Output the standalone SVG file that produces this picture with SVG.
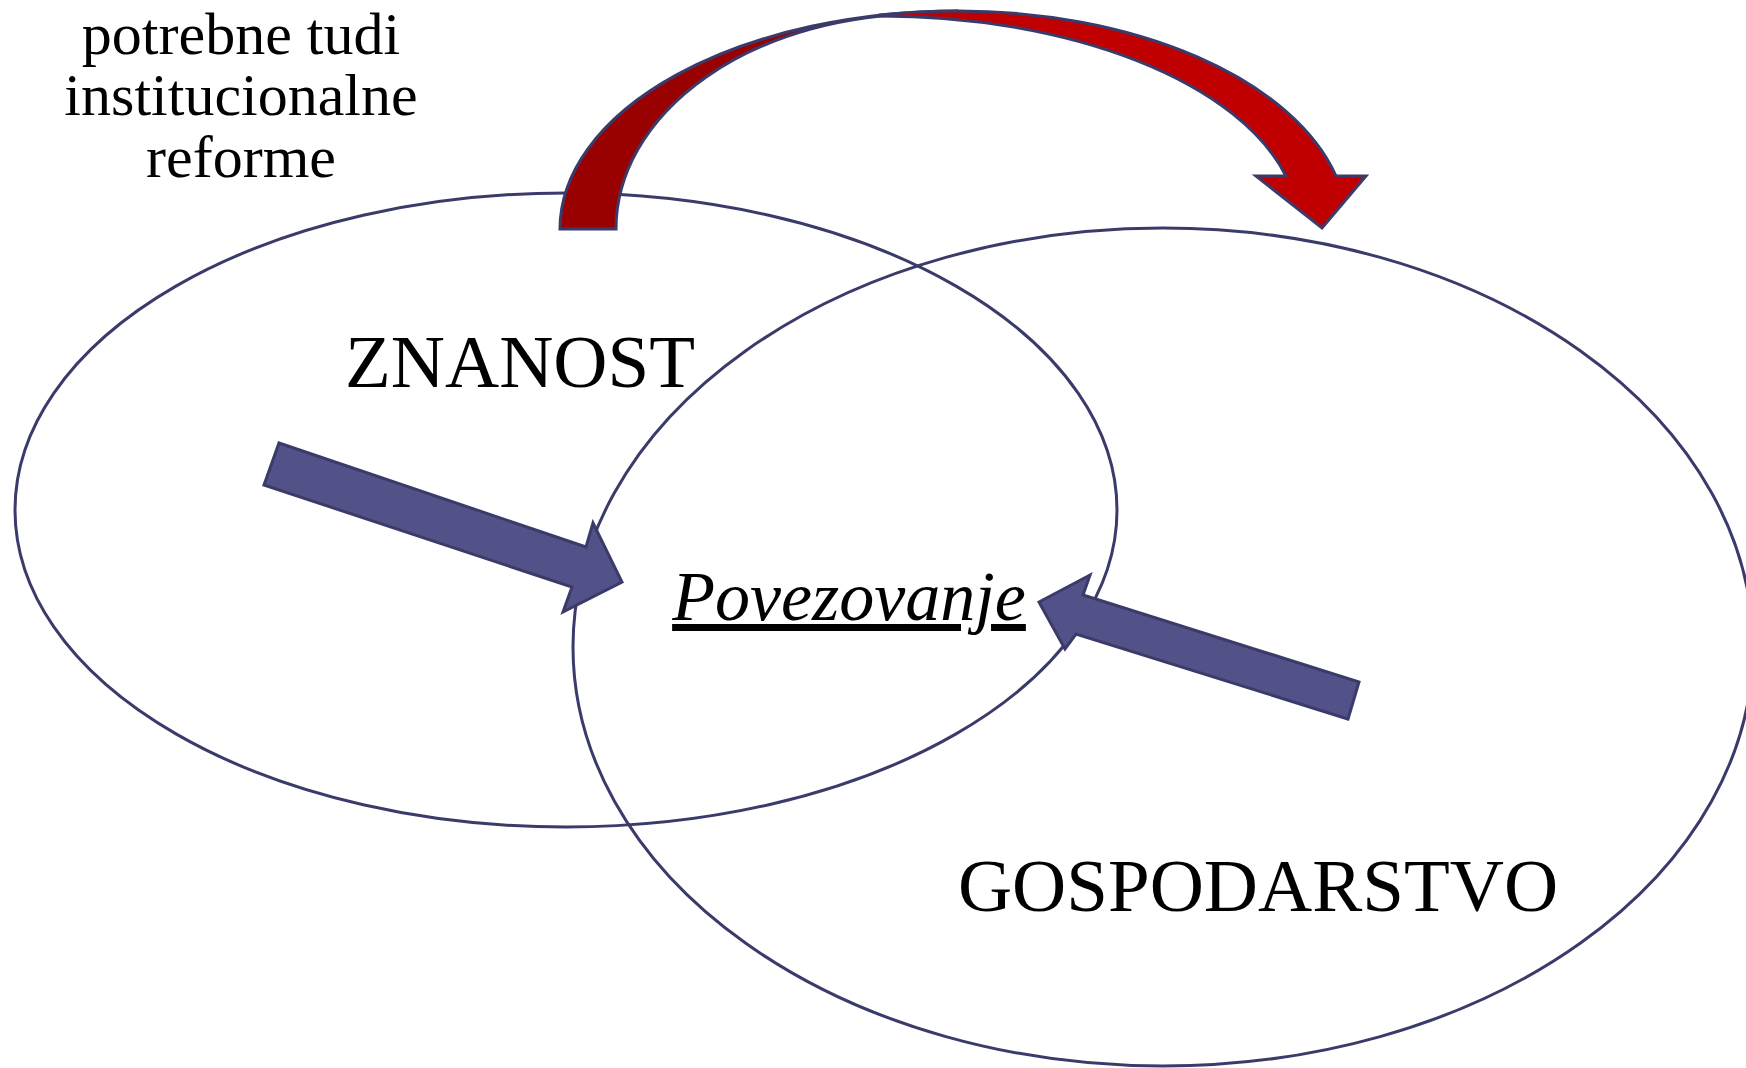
<svg xmlns="http://www.w3.org/2000/svg" width="1746" height="1068" viewBox="0 0 1746 1068">
<style>
.ell{fill:none;stroke:#3b3b6b;stroke-width:3}
.blue{fill:#525288;stroke:#3b3b6b;stroke-width:3;stroke-linejoin:miter}
.red{stroke:#3b3b6b;stroke-width:3;stroke-linejoin:miter}
.t{font-family:"Liberation Serif","Times New Roman",serif;fill:#000;text-anchor:middle}
</style>
<rect width="1746" height="1068" fill="#fff"/>
<g id="znanost">
<ellipse class="ell" cx="566" cy="510" rx="551" ry="317"/>
<text class="t" x="520" y="387" font-size="75">ZNANOST</text>
</g>
<g id="gospodarstvo">
<ellipse class="ell" cx="1163" cy="647" rx="590" ry="419"/>
<text class="t" x="1258" y="911" font-size="75">GOSPODARSTVO</text>
</g>
<g id="povezovanje">
<text class="t" x="849" y="620" font-size="70" font-style="italic" text-decoration="underline">Povezovanje</text>
</g>
<g id="reforme">
<text class="t" x="241" y="54" font-size="60">potrebne tudi</text>
<text class="t" x="241" y="115" font-size="60">institucionalne</text>
<text class="t" x="241" y="177" font-size="60">reforme</text>
</g>
<g id="connectors">
<path class="red" fill="#990000" d="M560,229 A398,218 0 0 1 958,11 L924,14 A308,215 0 0 0 616,229 Z"/>
<path class="red" fill="#c00000" d="M880,15 Q920,11 958,11 A390,218 0 0 1 1336,176 L1366,176 L1322,228 L1256,176 L1286,176 A419,213 0 0 0 880,16 Z"/>
<polygon class="blue" points="279,443 586,547 593,523 622,582 563,612 572,587 264,485"/>
<polygon class="blue" points="1039,602 1090,575 1083,595 1359,682 1348,719 1076,634 1065,649"/>
</g>
</svg>
